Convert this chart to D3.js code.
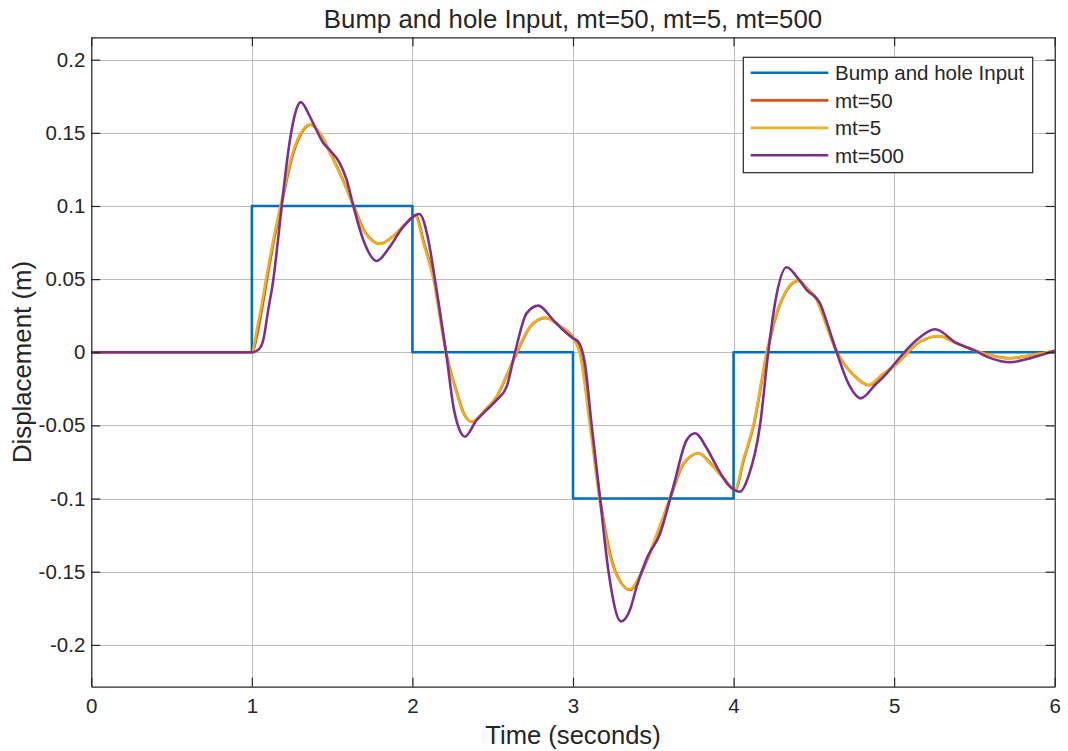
<!DOCTYPE html>
<html>
<head>
<meta charset="utf-8">
<script src="https://cdn.jsdelivr.net/npm/d3@7"></script>
<style>
  html, body { margin: 0; padding: 0; background: #ffffff; }
  svg { display: block; }
  text { font-family: "Liberation Sans", Arial, Helvetica, sans-serif; fill: #262626; }
</style>
</head>
<body>
<svg id="chart" width="1068" height="751"></svg>
<script>
// ---- Data -------------------------------------------------------------
const xTicks = [0, 1, 2, 3, 4, 5, 6];
const yTicks = [-0.2, -0.15, -0.1, -0.05, 0, 0.05, 0.1, 0.15, 0.2];

// Road input: bump then hole (step changes)
const inputTime  = [0, 1, 2, 3, 4, 6];
const inputValue = [0, 0.1, 0, -0.1, 0, 0];

// Response, mt = 50
const mt50Time = [0, 0.9, 1.0, 1.035, 1.065, 1.093, 1.135, 1.19, 1.255, 1.305, 1.366, 1.425, 1.49, 1.563, 1.635, 1.703, 1.8, 1.883, 1.953, 2.02, 2.073, 2.134, 2.216, 2.279, 2.32, 2.372, 2.455, 2.528, 2.584, 2.652, 2.735, 2.829, 2.923, 3.003, 3.046, 3.109, 3.168, 3.265, 3.359, 3.41, 3.462, 3.534, 3.607, 3.69, 3.783, 3.856, 3.939, 4.011, 4.063, 4.126, 4.209, 4.292, 4.406, 4.458, 4.521, 4.583, 4.645, 4.748, 4.842, 4.924, 5.008, 5.162, 5.278, 5.393, 5.493, 5.603, 5.723, 5.853, 6.0];
const mt50Value = [0, 0, 0, 0.013, 0.031, 0.049, 0.075, 0.104, 0.135, 0.149, 0.1555, 0.1495, 0.136, 0.119, 0.1, 0.0826, 0.0742, 0.0796, 0.087, 0.0935, 0.0745, 0.05, -0.003, -0.0282, -0.0417, -0.0476, -0.0396, -0.03, -0.0167, 0, 0.0175, 0.0235, 0.0176, 0.0096, -0.0007, -0.0497, -0.0994, -0.15, -0.1625, -0.1548, -0.142, -0.1216, -0.0994, -0.076, -0.069, -0.0758, -0.086, -0.094, -0.0738, -0.0497, 0, 0.0335, 0.0488, 0.0436, 0.0357, 0.0175, 0, -0.0155, -0.0225, -0.0156, -0.0087, 0.0072, 0.011, 0.006, 0.0016, -0.002, -0.0041, -0.002, 0.001];

// Response, mt = 5
const mt5Time = [0, 0.9, 1.0, 1.03, 1.06, 1.088, 1.13, 1.186, 1.25, 1.30, 1.362, 1.424, 1.487, 1.56, 1.632, 1.70, 1.798, 1.88, 1.95, 2.016, 2.07, 2.13, 2.213, 2.276, 2.317, 2.369, 2.452, 2.525, 2.581, 2.649, 2.732, 2.826, 2.92, 3.0, 3.042, 3.105, 3.164, 3.261, 3.355, 3.407, 3.459, 3.531, 3.604, 3.687, 3.78, 3.853, 3.936, 4.008, 4.06, 4.123, 4.206, 4.289, 4.403, 4.455, 4.518, 4.58, 4.642, 4.746, 4.839, 4.922, 5.005, 5.16, 5.275, 5.39, 5.49, 5.60, 5.721, 5.85, 6.0];
const mt5Value = [0, 0, 0, 0.015, 0.032, 0.05, 0.075, 0.104, 0.135, 0.149, 0.1558, 0.1497, 0.136, 0.119, 0.1, 0.0824, 0.074, 0.0795, 0.087, 0.0932, 0.074, 0.05, -0.003, -0.028, -0.0417, -0.0474, -0.0394, -0.03, -0.0167, 0, 0.0175, 0.0237, 0.0175, 0.0096, -0.0007, -0.0497, -0.0994, -0.15, -0.162, -0.1545, -0.142, -0.1215, -0.0994, -0.0759, -0.069, -0.0759, -0.0861, -0.094, -0.0736, -0.0497, 0, 0.0335, 0.049, 0.0437, 0.0357, 0.0175, 0, -0.0155, -0.0224, -0.0155, -0.0087, 0.0072, 0.0111, 0.006, 0.0016, -0.002, -0.0041, -0.002, 0.001];

// Response, mt = 500
const mt500Time = [0, 0.9, 1.0, 1.04, 1.071, 1.102, 1.134, 1.165, 1.19, 1.237, 1.269, 1.304, 1.362, 1.393, 1.445, 1.487, 1.549, 1.59, 1.632, 1.694, 1.777, 1.86, 1.943, 2.043, 2.099, 2.14, 2.182, 2.213, 2.255, 2.286, 2.327, 2.40, 2.462, 2.525, 2.587, 2.639, 2.711, 2.784, 2.877, 2.94, 3.0, 3.033, 3.074, 3.116, 3.168, 3.22, 3.299, 3.355, 3.397, 3.459, 3.542, 3.625, 3.708, 3.76, 3.833, 3.895, 3.967, 4.04, 4.092, 4.165, 4.216, 4.258, 4.331, 4.393, 4.455, 4.538, 4.59, 4.642, 4.725, 4.792, 4.881, 4.954, 5.005, 5.14, 5.255, 5.39, 5.493, 5.60, 5.721, 5.85, 6.0];
const mt500Value = [0, 0, 0, 0.0017, 0.0084, 0.029, 0.05, 0.079, 0.104, 0.145, 0.163, 0.171, 0.161, 0.154, 0.143, 0.138, 0.129, 0.118, 0.1, 0.0768, 0.0624, 0.0722, 0.0859, 0.0945, 0.0768, 0.05, 0.0198, -0.003, -0.037, -0.0508, -0.0577, -0.0463, -0.0394, -0.0326, -0.0235, 0, 0.0266, 0.0319, 0.022, 0.015, 0.0096, 0.0072, -0.0075, -0.0497, -0.0994, -0.149, -0.184, -0.176, -0.16, -0.141, -0.124, -0.0919, -0.06, -0.0554, -0.0656, -0.0782, -0.0907, -0.0953, -0.085, -0.0497, 0, 0.0335, 0.0581, 0.0517, 0.0426, 0.0335, 0.0175, 0, -0.0235, -0.0315, -0.0224, -0.0144, -0.0075, 0.0084, 0.0157, 0.0062, 0.0016, -0.004, -0.0068, -0.004, 0.001];

const seriesNames  = ["Bump and hole Input", "mt=50", "mt=5", "mt=500"];
const seriesColors = ["#0072BD", "#D95319", "#EDB120", "#7E2F8E"];

const titleText  = "Bump and hole Input, mt=50, mt=5, mt=500";
const xLabelText = "Time (seconds)";
const yLabelText = "Displacement (m)";

// ---- Layout -----------------------------------------------------------
const svg = d3.select("#chart");
const plot = { left: 91.3, right: 1054.7, top: 37.3, bottom: 686.7 };

const x = d3.scaleLinear().domain([0, 6]).range([plot.left, plot.right]);
const y = d3.scaleLinear().domain([-0.2286, 0.2153]).range([plot.bottom, plot.top]);

const fmt = d => String(+d.toFixed(2));
const axisColor = "#262626";
const gridColor = "#bdbdbd";

// Grid lines
const gx = svg.append("g").attr("transform", `translate(0,${plot.bottom})`)
  .call(d3.axisBottom(x).tickValues(xTicks).tickSize(-(plot.bottom - plot.top)).tickFormat(""));
const gy = svg.append("g").attr("transform", `translate(${plot.left},0)`)
  .call(d3.axisLeft(y).tickValues(yTicks).tickSize(-(plot.right - plot.left)).tickFormat(""));
[gx, gy].forEach(g => {
  g.select(".domain").remove();
  g.selectAll(".tick line").attr("stroke", gridColor).attr("stroke-width", 1).attr("shape-rendering", "crispEdges");
});

// Curves
svg.append("clipPath").attr("id", "plot-clip")
  .append("rect").attr("x", plot.left).attr("y", plot.top)
  .attr("width", plot.right - plot.left).attr("height", plot.bottom - plot.top);

const zip = (ts, vs) => ts.map((t, i) => [t, vs[i]]);
const smooth = d3.line().x(d => x(d[0])).y(d => y(d[1])).curve(d3.curveMonotoneX);
const steps  = d3.line().x(d => x(d[0])).y(d => y(d[1])).curve(d3.curveStepAfter);

const series = [
  { data: zip(inputTime, inputValue), gen: steps },
  { data: zip(mt50Time, mt50Value), gen: smooth },
  { data: zip(mt5Time, mt5Value), gen: smooth },
  { data: zip(mt500Time, mt500Value), gen: smooth }
];

const lines = svg.append("g").attr("clip-path", "url(#plot-clip)");
series.forEach((s, i) => {
  lines.append("path")
    .attr("d", s.gen(s.data))
    .attr("fill", "none")
    .attr("stroke", seriesColors[i])
    .attr("stroke-width", 2.6)
    .attr("stroke-linejoin", "round");
});

// Axes with inward ticks on all four sides (boxed axes)
const tickLen = 9;
function styleAxis(g) {
  g.select(".domain").attr("stroke", axisColor).attr("stroke-width", 1.2);
  g.selectAll(".tick line").attr("stroke", axisColor).attr("stroke-width", 1.2);
}
const axB = svg.append("g").attr("transform", `translate(0,${plot.bottom})`)
  .call(d3.axisBottom(x).tickValues(xTicks).tickSizeInner(-tickLen).tickSizeOuter(0).tickPadding(12).tickFormat(fmt));
const axT = svg.append("g").attr("transform", `translate(0,${plot.top})`)
  .call(d3.axisTop(x).tickValues(xTicks).tickSizeInner(-tickLen).tickSizeOuter(0).tickFormat(""));
const axL = svg.append("g").attr("transform", `translate(${plot.left},0)`)
  .call(d3.axisLeft(y).tickValues(yTicks).tickSizeInner(-tickLen).tickSizeOuter(0).tickPadding(6).tickFormat(fmt));
const axR = svg.append("g").attr("transform", `translate(${plot.right},0)`)
  .call(d3.axisRight(y).tickValues(yTicks).tickSizeInner(-tickLen).tickSizeOuter(0).tickFormat(""));
[axB, axT, axL, axR].forEach(styleAxis);
[axB, axL].forEach(g => g.selectAll(".tick text")
  .attr("font-size", 20.5).attr("fill", axisColor)
  .style("font-family", "'Liberation Sans', Arial, sans-serif"));
axB.selectAll(".tick text").attr("dy", "0.71em");

// Titles
svg.append("text").attr("x", (plot.left + plot.right) / 2).attr("y", 28.3)
  .attr("text-anchor", "middle").attr("font-size", 25.8).text(titleText);
svg.append("text").attr("x", (plot.left + plot.right) / 2).attr("y", 744)
  .attr("text-anchor", "middle").attr("font-size", 25.6).text(xLabelText);
svg.append("text").attr("transform", `translate(31,${(plot.top + plot.bottom) / 2}) rotate(-90)`)
  .attr("text-anchor", "middle").attr("font-size", 25.8).text(yLabelText);

// Legend
const lg = { x: 743.3, y: 57.3, w: 289.4, h: 115.4, rowY: [72.7, 100.4, 127.9, 155.3] };
const legend = svg.append("g");
legend.append("rect").attr("x", lg.x).attr("y", lg.y).attr("width", lg.w).attr("height", lg.h)
  .attr("fill", "#ffffff").attr("stroke", axisColor).attr("stroke-width", 1.2);
seriesNames.forEach((name, i) => {
  legend.append("line").attr("x1", 750.7).attr("x2", 828.3)
    .attr("y1", lg.rowY[i]).attr("y2", lg.rowY[i])
    .attr("stroke", seriesColors[i]).attr("stroke-width", 2.6);
  legend.append("text").attr("x", 835).attr("y", lg.rowY[i]).attr("dy", "0.36em")
    .attr("font-size", 20.5).text(name);
});
</script>
</body>
</html>
